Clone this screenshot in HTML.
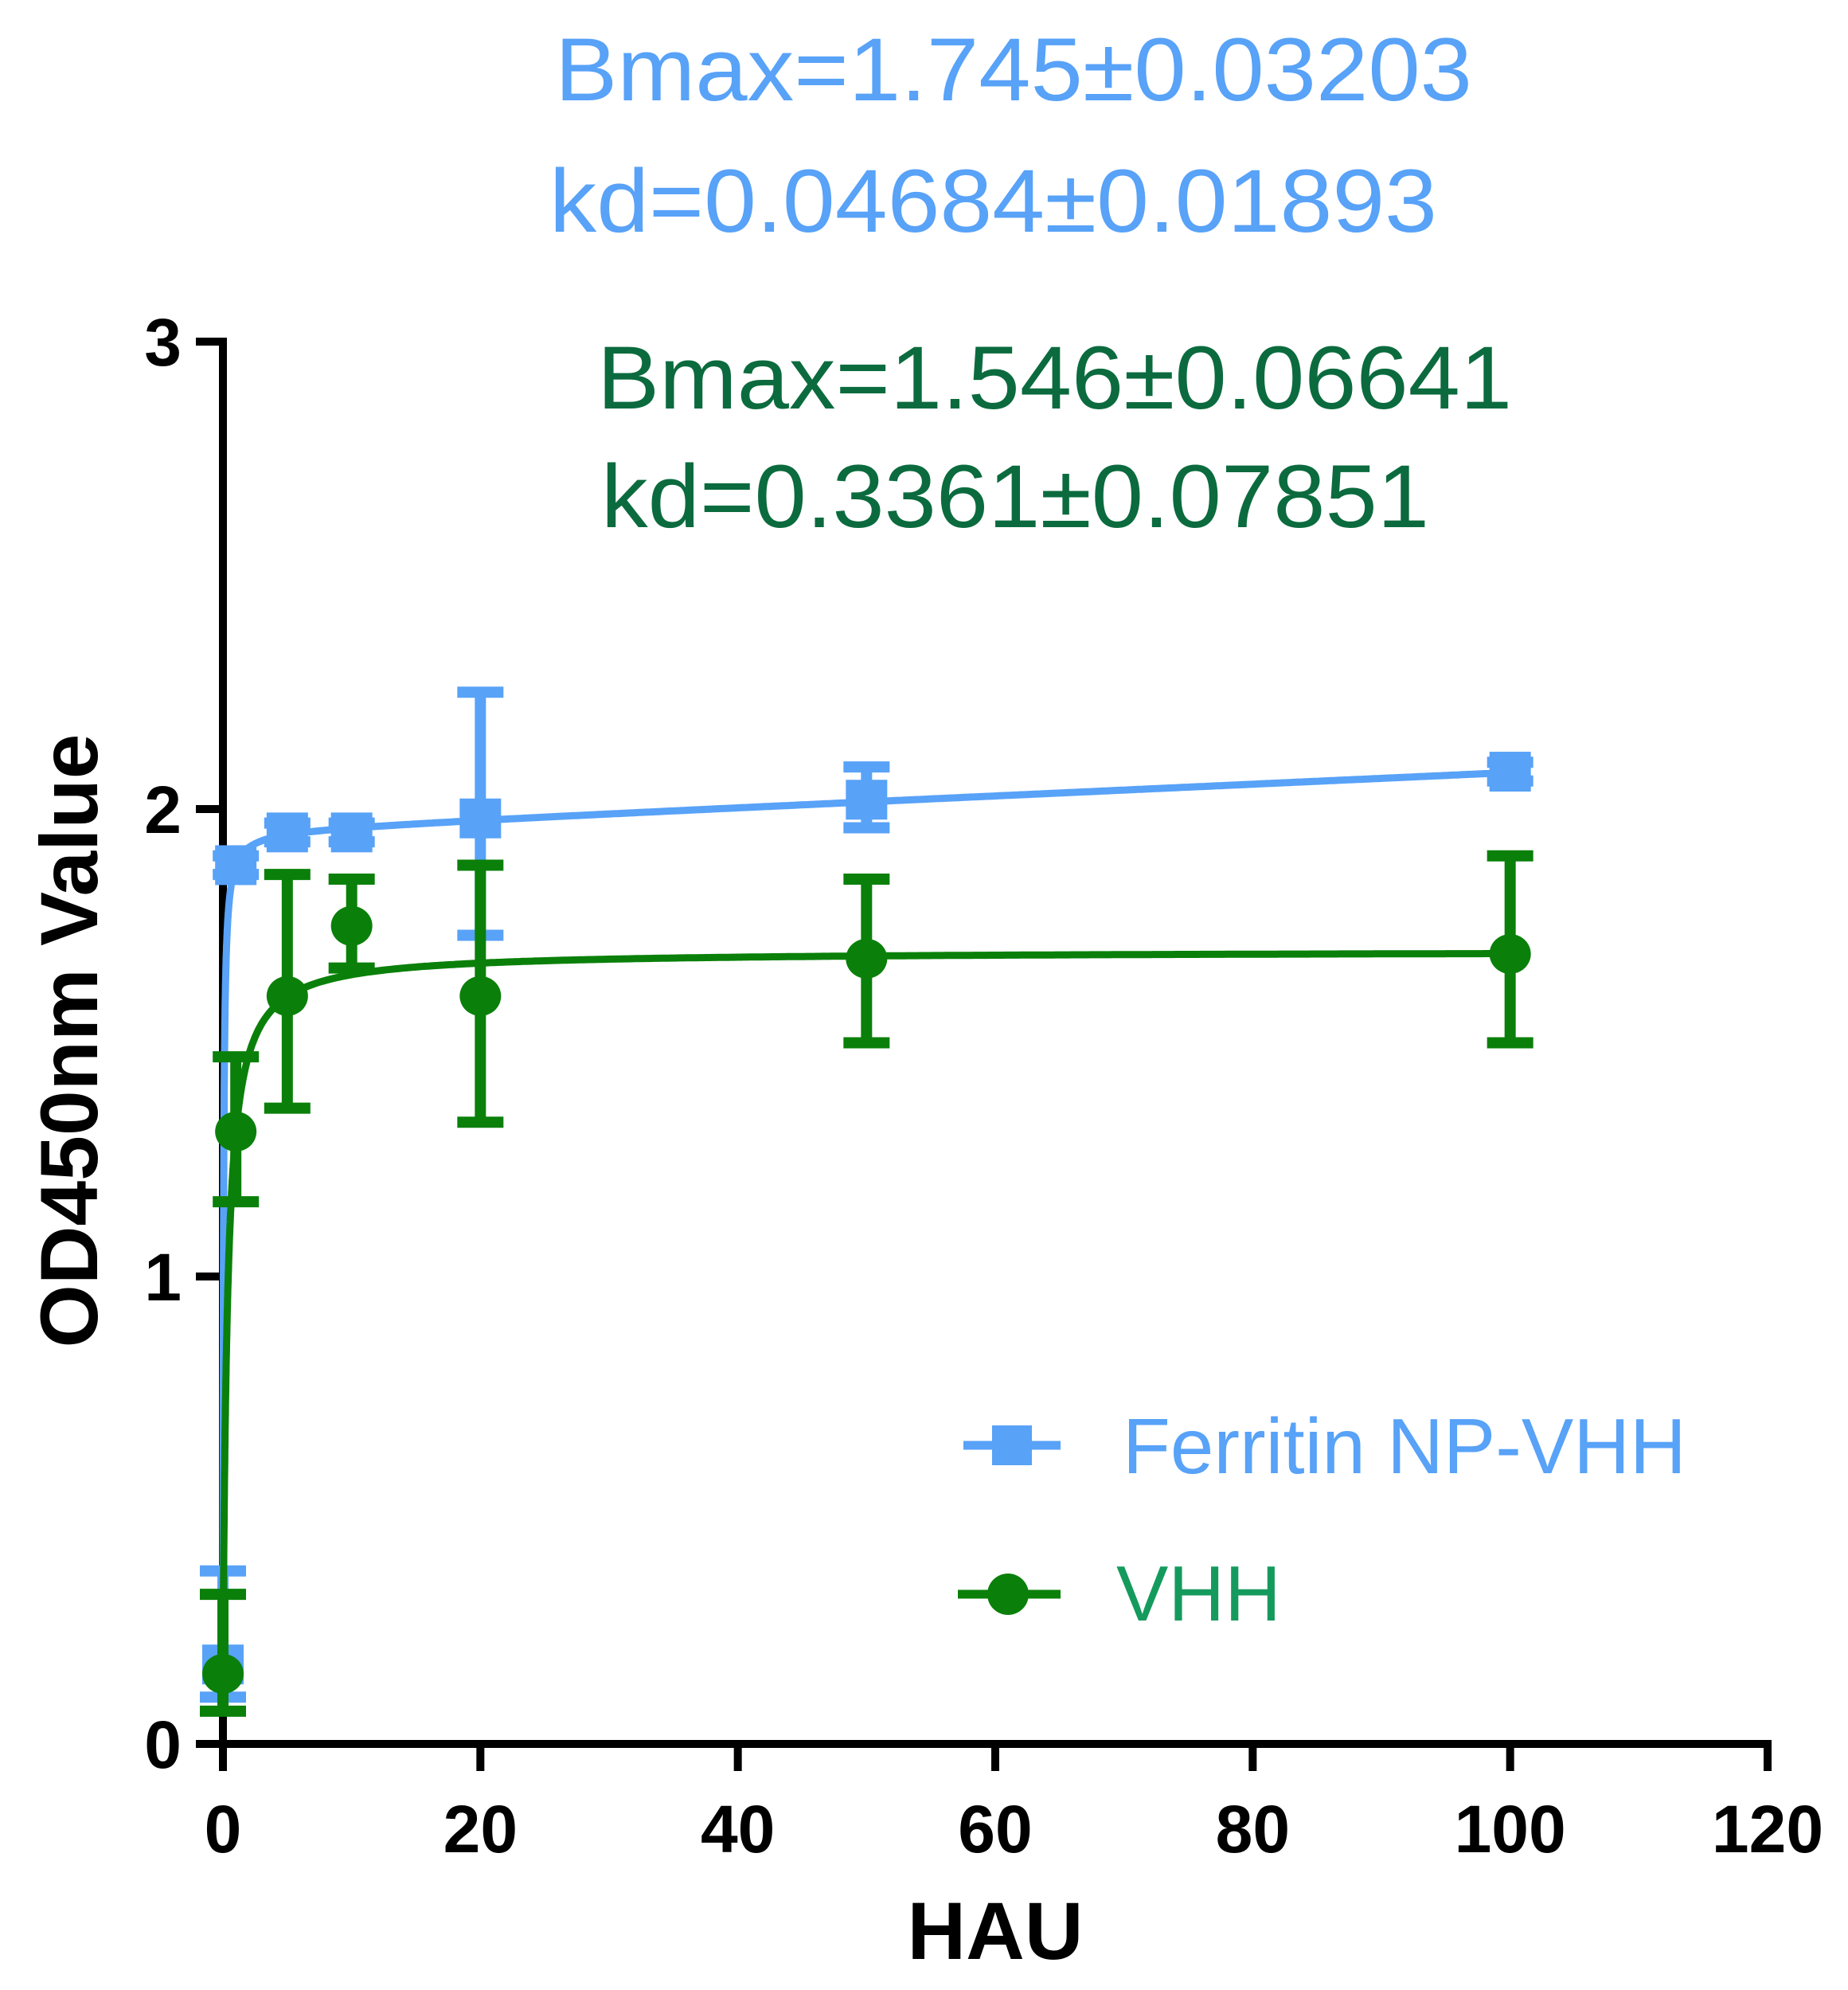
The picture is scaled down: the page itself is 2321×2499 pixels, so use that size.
<!DOCTYPE html>
<html><head><meta charset="utf-8"><style>
html,body{margin:0;padding:0;background:#fff}
svg{display:block}
text{font-family:"Liberation Sans",Arial,sans-serif}
</style></head><body>
<svg id="chart" width="2321" height="2499" viewBox="0 0 2321 2499" xmlns="http://www.w3.org/2000/svg">
<g>
<text x="697" y="126" font-size="112" fill="#58A2F8" textLength="1152" lengthAdjust="spacingAndGlyphs">Bmax=1.745±0.03203</text>
<text x="690" y="291" font-size="112" fill="#58A2F8" textLength="1115" lengthAdjust="spacingAndGlyphs">kd=0.04684±0.01893</text>
<text x="750" y="513" font-size="112" fill="#0B6B3E" textLength="1149" lengthAdjust="spacingAndGlyphs">Bmax=1.546±0.06641</text>
<text x="755" y="662" font-size="112" fill="#0B6B3E" textLength="1040" lengthAdjust="spacingAndGlyphs">kd=0.3361±0.07851</text>
</g>
<g id="axes"></g>
<g id="plot"></g>
<g>
<g>
<line x1="1210" y1="1815" x2="1332" y2="1815" stroke="#58A2F8" stroke-width="11"/>
<rect x="1246" y="1790" width="50" height="50" fill="#58A2F8"/>
<text x="1410" y="1850" font-size="98" fill="#58A2F8">Ferritin NP-VHH</text>
</g>
<g>
<line x1="1203" y1="2002" x2="1332" y2="2002" stroke="#0A800A" stroke-width="11"/>
<circle cx="1266" cy="2002" r="26" fill="#0A800A"/>
<text x="1402" y="2035" font-size="98" fill="#159A5E">VHH</text>
</g>
</g>
<text x="1250" y="2460" font-size="102" font-weight="bold" text-anchor="middle">HAU</text>
<text transform="translate(122,1307) rotate(-90)" font-size="102" font-weight="bold" text-anchor="middle">OD450nm Value</text>
</svg>
<script>
const xTicks=[0,20,40,60,80,100,120];
const yTicks=[0,1,2,3];
const xs=[0,1,5,10,20,50,100];
const ferritinMean=[0.17,1.88,1.95,1.95,1.98,2.02,2.08];
const ferritinLow=[0.10,1.86,1.93,1.93,1.73,1.96,2.06];
const ferritinHigh=[0.37,1.90,1.97,1.97,2.25,2.09,2.10];
const vhhMean=[0.15,1.31,1.60,1.75,1.60,1.68,1.69];
const vhhLow=[0.07,1.16,1.36,1.66,1.33,1.50,1.50];
const vhhHigh=[0.32,1.47,1.86,1.85,1.88,1.85,1.90];
const ferritinFit=[1.745,0.04684,0.00124,0.21];
const vhhFit=[1.546,0.3361,0,0.15];
const NS='http://www.w3.org/2000/svg';
const X=v=>280+v/120*1940;
const Y=v=>2190-v*587;
function mk(tag,attrs,parent){const e=document.createElementNS(NS,tag);for(const k in attrs)e.setAttribute(k,attrs[k]);parent.appendChild(e);return e;}
const axes=document.getElementById('axes'),plot=document.getElementById('plot');
xTicks.forEach(t=>{
 const l=mk('line',{x1:X(t),x2:X(t),y1:2190,y2:2224,stroke:'#000','stroke-width':10},axes);
 
 
 const tx=mk('text',{x:X(t),y:2326,'font-size':84,'font-weight':'bold','text-anchor':'middle'},axes);
 tx.textContent=t;
 
 
});
yTicks.forEach(t=>{
 const l=mk('line',{x1:246,x2:280,y1:Y(t),y2:Y(t),stroke:'#000','stroke-width':10},axes);
 
 
 const tx=mk('text',{x:228,y:Y(t)+30,'font-size':84,'font-weight':'bold','text-anchor':'end'},axes);
 tx.textContent=t;
 
 
});
const xa=mk('line',{x1:275,x2:2225,y1:2190,y2:2190,stroke:'#000','stroke-width':10},axes);


const ya=mk('line',{x1:280,x2:280,y1:424,y2:2195,stroke:'#000','stroke-width':10},axes);


function fitPath(p){let d='';for(let i=0;i<=600;i++){const x=i<200?i*0.01:2+(i-200)*0.245;const y=p[0]*x/(p[1]+x)+p[2]*x+p[3];d+=(i?'L':'M')+X(x).toFixed(1)+','+Y(y).toFixed(1);}return d;}
function series(name,mean,lo,hi,fit,color,shape){
 const c=mk('path',{d:fitPath(fit),fill:'none',stroke:color,'stroke-width':9},plot);
 
 
 xs.forEach((x,i)=>{
  const g=mk('g',{},plot);
  
  
  const cx=X(x);
  mk('line',{x1:cx,x2:cx,y1:Y(lo[i]),y2:Y(hi[i]),stroke:color,'stroke-width':14},g);
  mk('line',{x1:cx-29,x2:cx+29,y1:Y(lo[i]),y2:Y(lo[i]),stroke:color,'stroke-width':14},g);
  mk('line',{x1:cx-29,x2:cx+29,y1:Y(hi[i]),y2:Y(hi[i]),stroke:color,'stroke-width':14},g);
  if(shape==='sq')mk('rect',{x:cx-26,y:Y(mean[i])-25,width:52,height:50,fill:color},g);
  else mk('ellipse',{cx:cx,cy:Y(mean[i]),rx:26,ry:25,fill:color},g);
 });
}
series('ferritin',ferritinMean,ferritinLow,ferritinHigh,ferritinFit,'#58A2F8','sq');
series('vhh',vhhMean,vhhLow,vhhHigh,vhhFit,'#0A800A','ci');
</script>
</body></html>
